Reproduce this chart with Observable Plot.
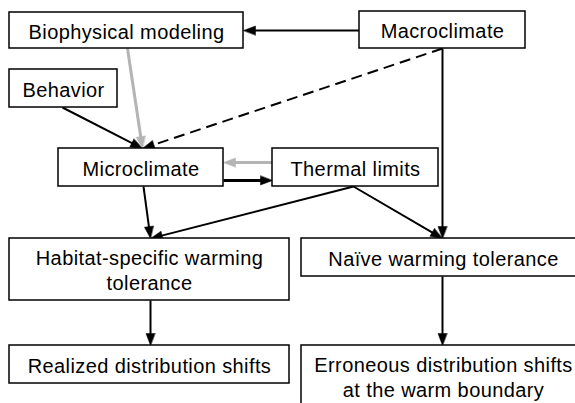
<!DOCTYPE html>
<html><head><meta charset="utf-8">
<script src="https://cdn.jsdelivr.net/npm/d3@7"></script>
<script src="https://cdn.jsdelivr.net/npm/@observablehq/plot@0.6"></script>
<style>body{margin:0;background:#fff} svg{display:block}</style>
</head><body><div id="chart"></div>
<script>
// Nodes of the diagram (diagram coordinates, 1 unit = 1 px)
const nodeLabels = ["Biophysical modeling", "Macroclimate", "Behavior", "Microclimate", "Thermal limits",
  "Habitat-specific warming\ntolerance", "Naïve warming tolerance", "Realized distribution shifts",
  "Erroneous distribution shifts\nat the warm boundary"];
const nodeLeft   = [9, 359, 9, 58, 272, 9, 301, 9, 301];
const nodeRight  = [243, 525, 117, 223, 438, 289, 585, 289, 585];
const nodeTop    = [12, 11, 69, 148, 148, 238, 238, 345, 345];
const nodeBottom = [48, 48, 107, 186, 186, 300, 276, 383, 412];

// Edges of the diagram
const edgeX1 = [359, 127, 62, 442, 442, 272, 223, 143, 353, 353, 150, 442];
const edgeY1 = [30, 48, 107, 48, 48, 162, 180, 186, 186, 186, 300, 276];
const edgeX2 = [243, 142, 142, 142, 442, 223, 272, 150, 150, 442, 150, 442];
const edgeY2 = [30, 148, 148, 148, 238, 162, 180, 238, 238, 238, 345, 345];
const edgeKind = ["solid", "gray", "solid", "dashed", "solid", "gray", "thick", "solid", "solid", "solid", "solid", "solid"];

const nodes = nodeLabels.map((label, i) => ({label, x1: nodeLeft[i], x2: nodeRight[i], y1: nodeTop[i], y2: nodeBottom[i]}));
const edges = edgeX1.map((x1, i) => ({id: i, x1, y1: edgeY1[i], x2: edgeX2[i], y2: edgeY2[i], kind: edgeKind[i]}));

const HEAD_L = 12, HEAD_W = 4.5;
const shafts = edges.map(e => {
  const dx = e.x2 - e.x1, dy = e.y2 - e.y1, L = Math.hypot(dx, dy);
  const k = (L - HEAD_L * 0.8) / L;
  return {...e, ex: e.x1 + dx * k, ey: e.y1 + dy * k};
});
const heads = [];
edges.forEach(e => {
  const dx = e.x2 - e.x1, dy = e.y2 - e.y1, L = Math.hypot(dx, dy);
  const ux = dx / L, uy = dy / L, px = -uy, py = ux;
  const bx = e.x2 - ux * HEAD_L, by = e.y2 - uy * HEAD_L;
  heads.push({id: e.id, kind: e.kind, x: e.x2, y: e.y2});
  heads.push({id: e.id, kind: e.kind, x: bx + px * HEAD_W, y: by + py * HEAD_W});
  heads.push({id: e.id, kind: e.kind, x: bx - px * HEAD_W, y: by - py * HEAD_W});
});

const GRAY = "#b4b4b4";
const chart = Plot.plot({
  width: 575, height: 403,
  marginTop: 0, marginRight: 0, marginBottom: 0, marginLeft: 0,
  x: {domain: [0, 575], range: [0, 575], axis: null},
  y: {domain: [0, 403], range: [0, 403], axis: null},
  style: {background: "#fff", letterSpacing: "0.4px"},
  marks: [
    Plot.link(shafts.filter(d => d.kind === "solid"), {x1: "x1", y1: "y1", x2: "ex", y2: "ey", stroke: "#000", strokeWidth: 2}),
    Plot.link(shafts.filter(d => d.kind === "thick"), {x1: "x1", y1: "y1", x2: "ex", y2: "ey", stroke: "#000", strokeWidth: 3}),
    Plot.link(shafts.filter(d => d.kind === "dashed"), {x1: "x1", y1: "y1", x2: "ex", y2: "ey", stroke: "#000", strokeWidth: 2, strokeDasharray: "11,6"}),
    Plot.link(shafts.filter(d => d.kind === "gray"), {x1: "x1", y1: "y1", x2: "ex", y2: "ey", stroke: GRAY, strokeWidth: 3}),
    Plot.line(heads.filter(d => d.kind !== "gray"), {x: "x", y: "y", z: "id", fill: "#000", stroke: "#000", strokeWidth: 0.5, curve: "linear-closed"}),
    Plot.line(heads.filter(d => d.kind === "gray"), {x: "x", y: "y", z: "id", fill: GRAY, stroke: GRAY, strokeWidth: 0.5, curve: "linear-closed"}),
    Plot.rect(nodes, {x1: "x1", x2: "x2", y1: "y1", y2: "y2", fill: "#fff", stroke: "#000", strokeWidth: 1.5}),
    Plot.text(nodes, {x: d => (d.x1 + d.x2) / 2, y: d => (d.y1 + Math.min(d.y2, 403)) / 2 + (d.y2 > 403 ? 2 : 0),
      text: "label", fontSize: 20, fontFamily: "Liberation Sans, Arial, Helvetica, sans-serif", lineHeight: 1.28, fill: "#000"})
  ]
});
document.getElementById("chart").appendChild(chart);
</script>
</body></html>
